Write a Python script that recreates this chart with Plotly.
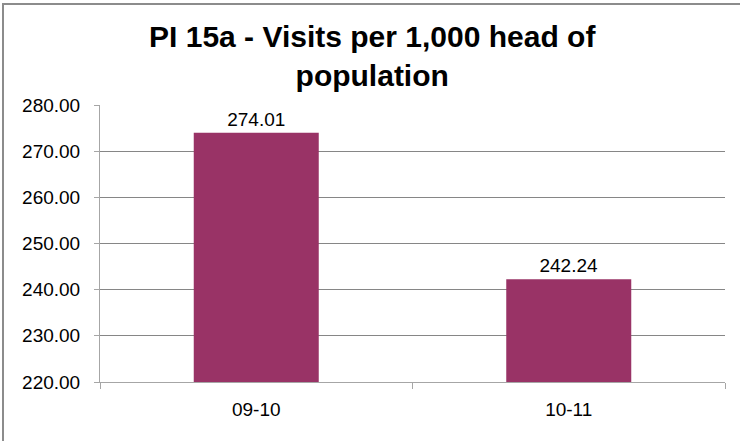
import plotly.graph_objects as go

# Visits per 1,000 head of population, by financial year
periods = ["09-10", "10-11"]
visits_per_1000 = [274.01, 242.24]
y_tick_values = [220, 230, 240, 250, 260, 270, 280]

W, H = 740, 441
M_L, M_R, M_T, M_B = 100, 15, 105, 59
plot_w = W - M_L - M_R
plot_h = H - M_T - M_B

FONT = "Liberation Sans, Arial, sans-serif"
BAR_COLOR = "#993366"
GRID_COLOR = "#868686"
AXIS_COLOR = "#a6a6a6"

fig = go.Figure(
    go.Bar(
        x=periods,
        y=visits_per_1000,
        marker=dict(color=BAR_COLOR, line=dict(width=0)),
        text=[f"{v:.2f}" for v in visits_per_1000],
        textposition="outside",
        textfont=dict(family=FONT, size=19, color="#000000"),
        cliponaxis=False,
    )
)


def px_to_paper_x(px):
    return (px - M_L) / plot_w


def px_to_paper_y(py):
    return (H - M_B - py) / plot_h


# Chart-area frame (left and top edges visible)
fig.add_shape(
    type="rect",
    xref="paper", yref="paper",
    x0=px_to_paper_x(3), x1=px_to_paper_x(760),
    y0=px_to_paper_y(470), y1=px_to_paper_y(4),
    line=dict(color="#8c8c8c", width=2),
    fillcolor="rgba(0,0,0,0)",
    layer="above",
)

fig.update_layout(
    width=W,
    height=H,
    margin=dict(l=M_L, r=M_R, t=M_T, b=M_B, pad=0),
    paper_bgcolor="#ffffff",
    plot_bgcolor="#ffffff",
    showlegend=False,
    bargap=0.6,
    title=dict(
        text="<b>PI 15a - Visits per 1,000 head of<br>population</b>",
        font=dict(family=FONT, size=30, color="#000000"),
        x=0.503,
        xanchor="center",
        xref="container",
        y=1 - 47 / H,
        yanchor="middle",
        yref="container",
    ),
    xaxis=dict(
        type="category",
        showgrid=False,
        showline=True,
        linecolor=AXIS_COLOR,
        linewidth=1,
        ticks="outside",
        tickson="boundaries",
        ticklen=6,
        tickcolor=AXIS_COLOR,
        tickfont=dict(family=FONT, size=19, color="#000000"),
        ticklabelstandoff=10,
    ),
    yaxis=dict(
        range=[220, 280],
        tickvals=y_tick_values,
        tickformat=".2f",
        showgrid=True,
        gridcolor=GRID_COLOR,
        gridwidth=1,
        zeroline=False,
        showline=True,
        linecolor=AXIS_COLOR,
        linewidth=1,
        ticks="outside",
        ticklen=5,
        tickcolor=AXIS_COLOR,
        tickfont=dict(family=FONT, size=19, color="#000000"),
        ticklabelstandoff=10,
    ),
    font=dict(family=FONT, color="#000000"),
)

fig.write_html("out.html")
